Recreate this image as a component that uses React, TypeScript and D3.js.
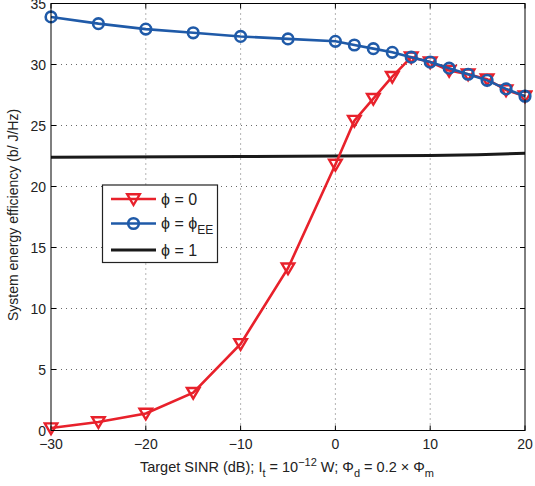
import React from "react";
import * as d3 from "d3";

const xTicks = [-30, -20, -10, 0, 10, 20];
const yTicks = [0, 5, 10, 15, 20, 25, 30, 35];

const sinrX = [-30, -25, -20, -15, -10, -5, 0, 2, 4, 6, 8, 10, 12, 14, 16, 18, 20];
const phi0 = [0.2, 0.7, 1.4, 3.1, 7.1, 13.3, 21.8, 25.4, 27.2, 29.0, 30.6, 30.2, 29.5, 29.2, 28.8, 27.9, 27.4];
const phiEE = [33.9, 33.35, 32.9, 32.6, 32.3, 32.1, 31.9, 31.6, 31.3, 31.0, 30.6, 30.2, 29.7, 29.2, 28.7, 28.0, 27.4];
const phi1X = [-30, -10, 0, 10, 15, 20];
const phi1 = [22.4, 22.45, 22.5, 22.55, 22.6, 22.72];

const RED = "#e8212b";
const BLUE = "#1f5aa8";
const BLACK = "#1a1a1a";

export default function App() {
  const W = 535, H = 486;
  const left = 51, right = 525, top = 3.5, bottom = 430.5;
  const x = d3.scaleLinear().domain([-30, 20]).range([left, right]);
  const y = d3.scaleLinear().domain([0, 35]).range([bottom, top]);
  const line = d3.line<[number, number]>().x(d => x(d[0])).y(d => y(d[1]));
  const redPts: [number, number][] = sinrX.map((v, i) => [v, phi0[i]]);
  const bluePts: [number, number][] = sinrX.map((v, i) => [v, phiEE[i]]);
  const blackPts: [number, number][] = phi1X.map((v, i) => [v, phi1[i]]);
  const tri = (cx: number, cy: number, s = 6.3) =>
    `M${cx - s},${cy - s * 0.75} L${cx + s},${cy - s * 0.75} L${cx},${cy + s * 0.95} Z`;
  const font = "'Liberation Sans', Arial, Helvetica, sans-serif";
  const PHI = "\u03D5";

  return (
    <svg width={W} height={H} style={{ position: "absolute", left: 0, top: 0, background: "#fff" }} fontFamily={font}>
      <rect x={0} y={0} width={W} height={H} fill="#fff" />
      <defs>
        <clipPath id="plot">
          <rect x={left - 8} y={top - 8} width={right - left + 16} height={bottom - top + 16} />
        </clipPath>
      </defs>
      {/* grid */}
      {xTicks.slice(1, -1).map(t => (
        <line key={"gx" + t} x1={x(t)} x2={x(t)} y1={top} y2={bottom} stroke="#444" strokeWidth={0.8} strokeDasharray="1,4" />
      ))}
      {yTicks.slice(1, -1).map(t => (
        <line key={"gy" + t} x1={left} x2={right} y1={y(t)} y2={y(t)} stroke="#444" strokeWidth={0.8} strokeDasharray="1,4" />
      ))}
      {/* ticks inside */}
      {xTicks.map(t => (
        <g key={"tx" + t}>
          <line x1={x(t)} x2={x(t)} y1={bottom} y2={bottom - 5} stroke="#000" />
          <line x1={x(t)} x2={x(t)} y1={top} y2={top + 5} stroke="#000" />
          <text x={x(t)} y={bottom + 18} textAnchor="middle" fontSize={14} fill="#222">{t < 0 ? "\u2212" + Math.abs(t) : t}</text>
        </g>
      ))}
      {yTicks.map(t => (
        <g key={"ty" + t}>
          <line x1={left} x2={left + 5} y1={y(t)} y2={y(t)} stroke="#000" />
          <line x1={right} x2={right - 5} y1={y(t)} y2={y(t)} stroke="#000" />
          <text x={left - 5} y={y(t) + 5} textAnchor="end" fontSize={14} fill="#222">{t}</text>
        </g>
      ))}
      {/* series */}
      <g clipPath="url(#plot)">
        <path d={line(blackPts) || ""} fill="none" stroke={BLACK} strokeWidth={3} />
        <path d={line(redPts) || ""} fill="none" stroke={RED} strokeWidth={2.6} />
        {redPts.map((p, i) => (
          <path key={"r" + i} d={tri(x(p[0]), y(p[1]))} fill="none" stroke={RED} strokeWidth={2.4} strokeLinejoin="miter" />
        ))}
        <path d={line(bluePts) || ""} fill="none" stroke={BLUE} strokeWidth={2.6} />
        {bluePts.map((p, i) => (
          <circle key={"b" + i} cx={x(p[0])} cy={y(p[1])} r={5.3} fill="none" stroke={BLUE} strokeWidth={2.6} />
        ))}
      </g>
      {/* axes box */}
      <rect x={left} y={top} width={right - left} height={bottom - top} fill="none" stroke="#000" strokeWidth={1} />
      {/* legend */}
      <rect x={102.5} y={185} width={115} height={77.5} fill="#fff" stroke="#222" strokeWidth={1.2} />
      <line x1={111} x2={156} y1={199} y2={199} stroke={RED} strokeWidth={2.6} />
      <path d={tri(133.5, 199)} fill="none" stroke={RED} strokeWidth={2.4} />
      <text x={161} y={204.5} fontSize={16} fill="#222">{PHI} = 0</text>
      <line x1={111} x2={156} y1={223.5} y2={223.5} stroke={BLUE} strokeWidth={2.6} />
      <circle cx={133.5} cy={223.5} r={5.3} fill="none" stroke={BLUE} strokeWidth={2.6} />
      <text x={161} y={229} fontSize={16} fill="#222">{PHI} = {PHI}<tspan fontSize={12} dy={5}>EE</tspan></text>
      <line x1={111} x2={156} y1={250} y2={250} stroke={BLACK} strokeWidth={3} />
      <text x={161} y={255.5} fontSize={16} fill="#222">{PHI} = 1</text>
      {/* axis labels */}
      <text x={287} y={472} textAnchor="middle" fontSize={14.5} fill="#222">
        Target SINR (dB); I<tspan fontSize={11} dy={5}>t</tspan>
        <tspan dy={-5}> = 10</tspan><tspan fontSize={11} dy={-6}>−12</tspan>
        <tspan dy={6}> W; Φ</tspan><tspan fontSize={11} dy={5}>d</tspan>
        <tspan dy={-5}> = 0.2 × Φ</tspan><tspan fontSize={11} dy={5}>m</tspan>
      </text>
      <text transform={`translate(18,215) rotate(-90)`} textAnchor="middle" fontSize={14} fill="#222">
        System energy efficiency (b/ J/Hz)
      </text>
    </svg>
  );
}
